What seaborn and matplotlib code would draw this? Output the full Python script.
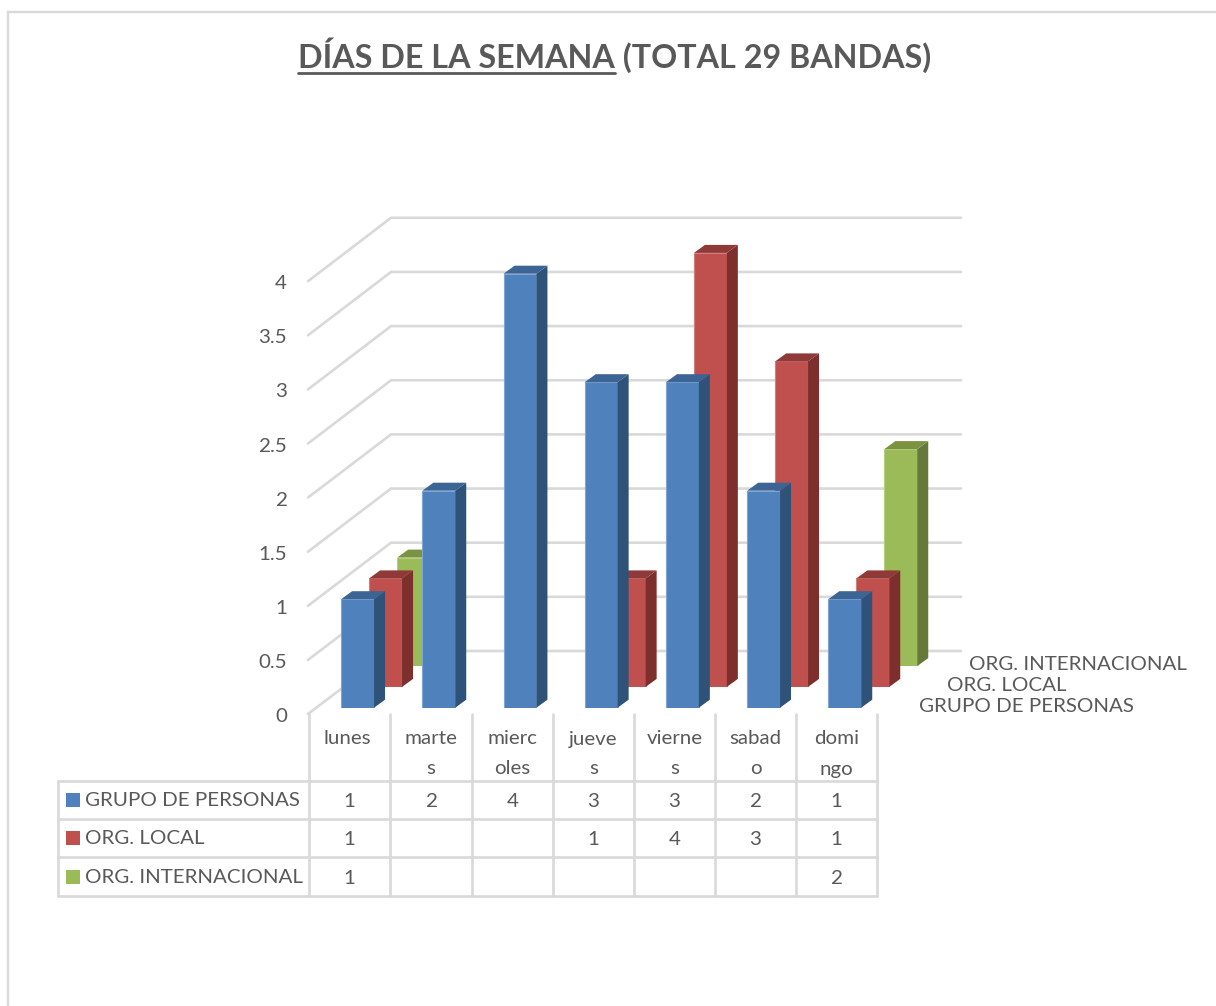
# plot.py
import numpy as np
import pandas as pd
import seaborn as sns
import matplotlib.pyplot as plt
from matplotlib.patches import Polygon, Rectangle

# ----------------------------
# Data
# ----------------------------
days = ["lunes", "martes", "miercoles", "jueves", "viernes", "sabado", "domingo"]
day_labels = ["lunes", "marte\ns", "mierc\noles", "jueve\ns", "vierne\ns", "sabad\no", "domi\nngo"]
grupo = [1, 2, 4, 3, 3, 2, 1]
org_local = [1, np.nan, np.nan, 1, 4, 3, 1]
org_internacional = [1, np.nan, np.nan, np.nan, np.nan, np.nan, 2]
series_names = ["GRUPO DE PERSONAS", "ORG. LOCAL", "ORG. INTERNACIONAL"]
y_ticks = [0, 0.5, 1, 1.5, 2, 2.5, 3, 3.5, 4]
y_tick_labels = ["0", "0.5", "1", "1.5", "2", "2.5", "3", "3.5", "4"]
title_left = "DÍAS DE LA SEMANA"
title_right = " (TOTAL 29 BANDAS)"

series_values = [grupo, org_local, org_internacional]

# front, side, top colours
face_colors = ["#4F81BD", "#C0504D", "#9BBB59"]
side_colors = ["#2F5279", "#7D2F2D", "#66793A"]
top_colors = ["#3C6494", "#8F3A38", "#7A9340"]
edge_colors = ["#7FA5D3", "#D27E7B", "#B5CF80"]

TEXT = "#595959"
LINE = "#D9D9D9"
W, H = 1216, 1006
FONT = 14.75

sns.set_theme(style="white")
plt.rcParams["font.family"] = ["Lato", "DejaVu Sans"]

fig = plt.figure(figsize=(W / 100, H / 100), dpi=100, facecolor="white")

# Overlay in pixel units for the frame, walls and data table
back = fig.add_axes([0, 0, 1, 1], zorder=0)
back.set_xlim(0, W)
back.set_ylim(H, 0)
back.axis("off")

front = fig.add_axes([0, 0, 1, 1], zorder=10)
front.set_xlim(0, W)
front.set_ylim(H, 0)
front.axis("off")

# Chart frame
back.plot([8, 8, W], [H, 12, 12], color=LINE, lw=1.7, solid_joinstyle="miter")

# Walls with the 3D gridlines
for v in y_ticks:
    yf = 714 - 108.2 * v
    yb = 651 - 108.3 * v
    back.plot([308, 391, 961], [yf, yb, yb], color=LINE, lw=1.9)

for v, lab in zip(y_ticks, y_tick_labels):
    front.text(287, 716.5 - 108.2 * v, lab, ha="right", va="center", color=TEXT, fontsize=FONT)

# ----------------------------
# Bars: one axes per series, shifted back in depth
# ----------------------------
col_w = 81.2
unit = 108.5
base_x, base_y = 317, 707.7
shift_x, shift_y = 28, 20.8
dx, dy = 11, 8

for i in [2, 1, 0]:
    left = base_x + i * shift_x
    bottom = base_y - i * shift_y
    ax = fig.add_axes(
        [left / W, 1 - bottom / H, 7 * col_w / W, 4 * unit / H],
        zorder=3 - i,
    )
    df = pd.DataFrame({"day": days, "value": series_values[i]})
    sns.barplot(
        data=df, x="day", y="value", order=days, ax=ax,
        color=face_colors[i], saturation=1, width=0.405, errorbar=None,
        edgecolor=edge_colors[i], linewidth=0.8,
    )
    ax.set_xlim(-0.5, 6.5)
    ax.set_ylim(0, 4)
    ax.axis("off")

    # Depth faces built from the bars seaborn drew
    to_px = ax.transData + back.transData.inverted()
    for bar in list(ax.patches):
        if not bar.get_height() > 0:
            continue
        x0, y0 = to_px.transform((bar.get_x(), 0))
        x1, y1 = to_px.transform((bar.get_x() + bar.get_width(), bar.get_height()))
        ax.add_patch(Polygon(
            [(x1, y1), (x1 + dx, y1 - dy), (x1 + dx, y0 - dy), (x1, y0)],
            closed=True, facecolor=side_colors[i], edgecolor="none",
            transform=back.transData, clip_on=False,
        ))
        ax.add_patch(Polygon(
            [(x0, y1), (x0 + dx, y1 - dy), (x1 + dx, y1 - dy), (x1, y1)],
            closed=True, facecolor=top_colors[i], edgecolor="none",
            transform=back.transData, clip_on=False,
        ))

# Depth axis labels
for name, x, y in zip(series_names, [919, 947, 969], [706.5, 685.5, 664]):
    front.text(x, y, name, ha="left", va="center", color=TEXT, fontsize=FONT)

# ----------------------------
# Data table
# ----------------------------
col_x = [309, 390, 472, 553, 634, 715, 796, 877]
row_y = [781, 819, 857, 896]
for x in col_x:
    back.plot([x, x], [714, row_y[-1]], color=LINE, lw=1.9)
for y in row_y:
    back.plot([58, col_x[-1]], [y, y], color=LINE, lw=1.9)
back.plot([58, 58], [row_y[0], row_y[-1]], color=LINE, lw=1.9)

for c, lab in enumerate(day_labels):
    cx = (col_x[c] + col_x[c + 1]) / 2
    if c == 0:
        cx -= 2
    for k, part in enumerate(lab.split("\n")):
        front.text(cx, 739 + k * 30, part, ha="center", va="center", color=TEXT, fontsize=FONT)

for r, (name, vals) in enumerate(zip(series_names, series_values)):
    cy = (row_y[r] + row_y[r + 1]) / 2
    front.add_patch(Rectangle((66, cy - 7), 14, 14, facecolor=face_colors[r], edgecolor="none"))
    front.text(85, cy + 1, name, ha="left", va="center", color=TEXT, fontsize=FONT)
    for c, v in enumerate(vals):
        if not np.isnan(v):
            cx = (col_x[c] + col_x[c + 1]) / 2
            front.text(cx, cy + 1.5, str(int(v)), ha="center", va="center", color=TEXT, fontsize=FONT)

# ----------------------------
# Title with underlined first part
# ----------------------------
t1 = front.text(298, 58, title_left, ha="left", va="center", color=TEXT,
                fontsize=23.2, fontweight="bold")
fig.canvas.draw()
box = t1.get_window_extent().transformed(front.transData.inverted())
front.text(box.x1, 58, title_right, ha="left", va="center", color=TEXT,
           fontsize=23.2, fontweight="bold")
front.plot([box.x0, box.x1], [72.5, 72.5], color=TEXT, lw=2)

fig.savefig("out.png", dpi=100)
